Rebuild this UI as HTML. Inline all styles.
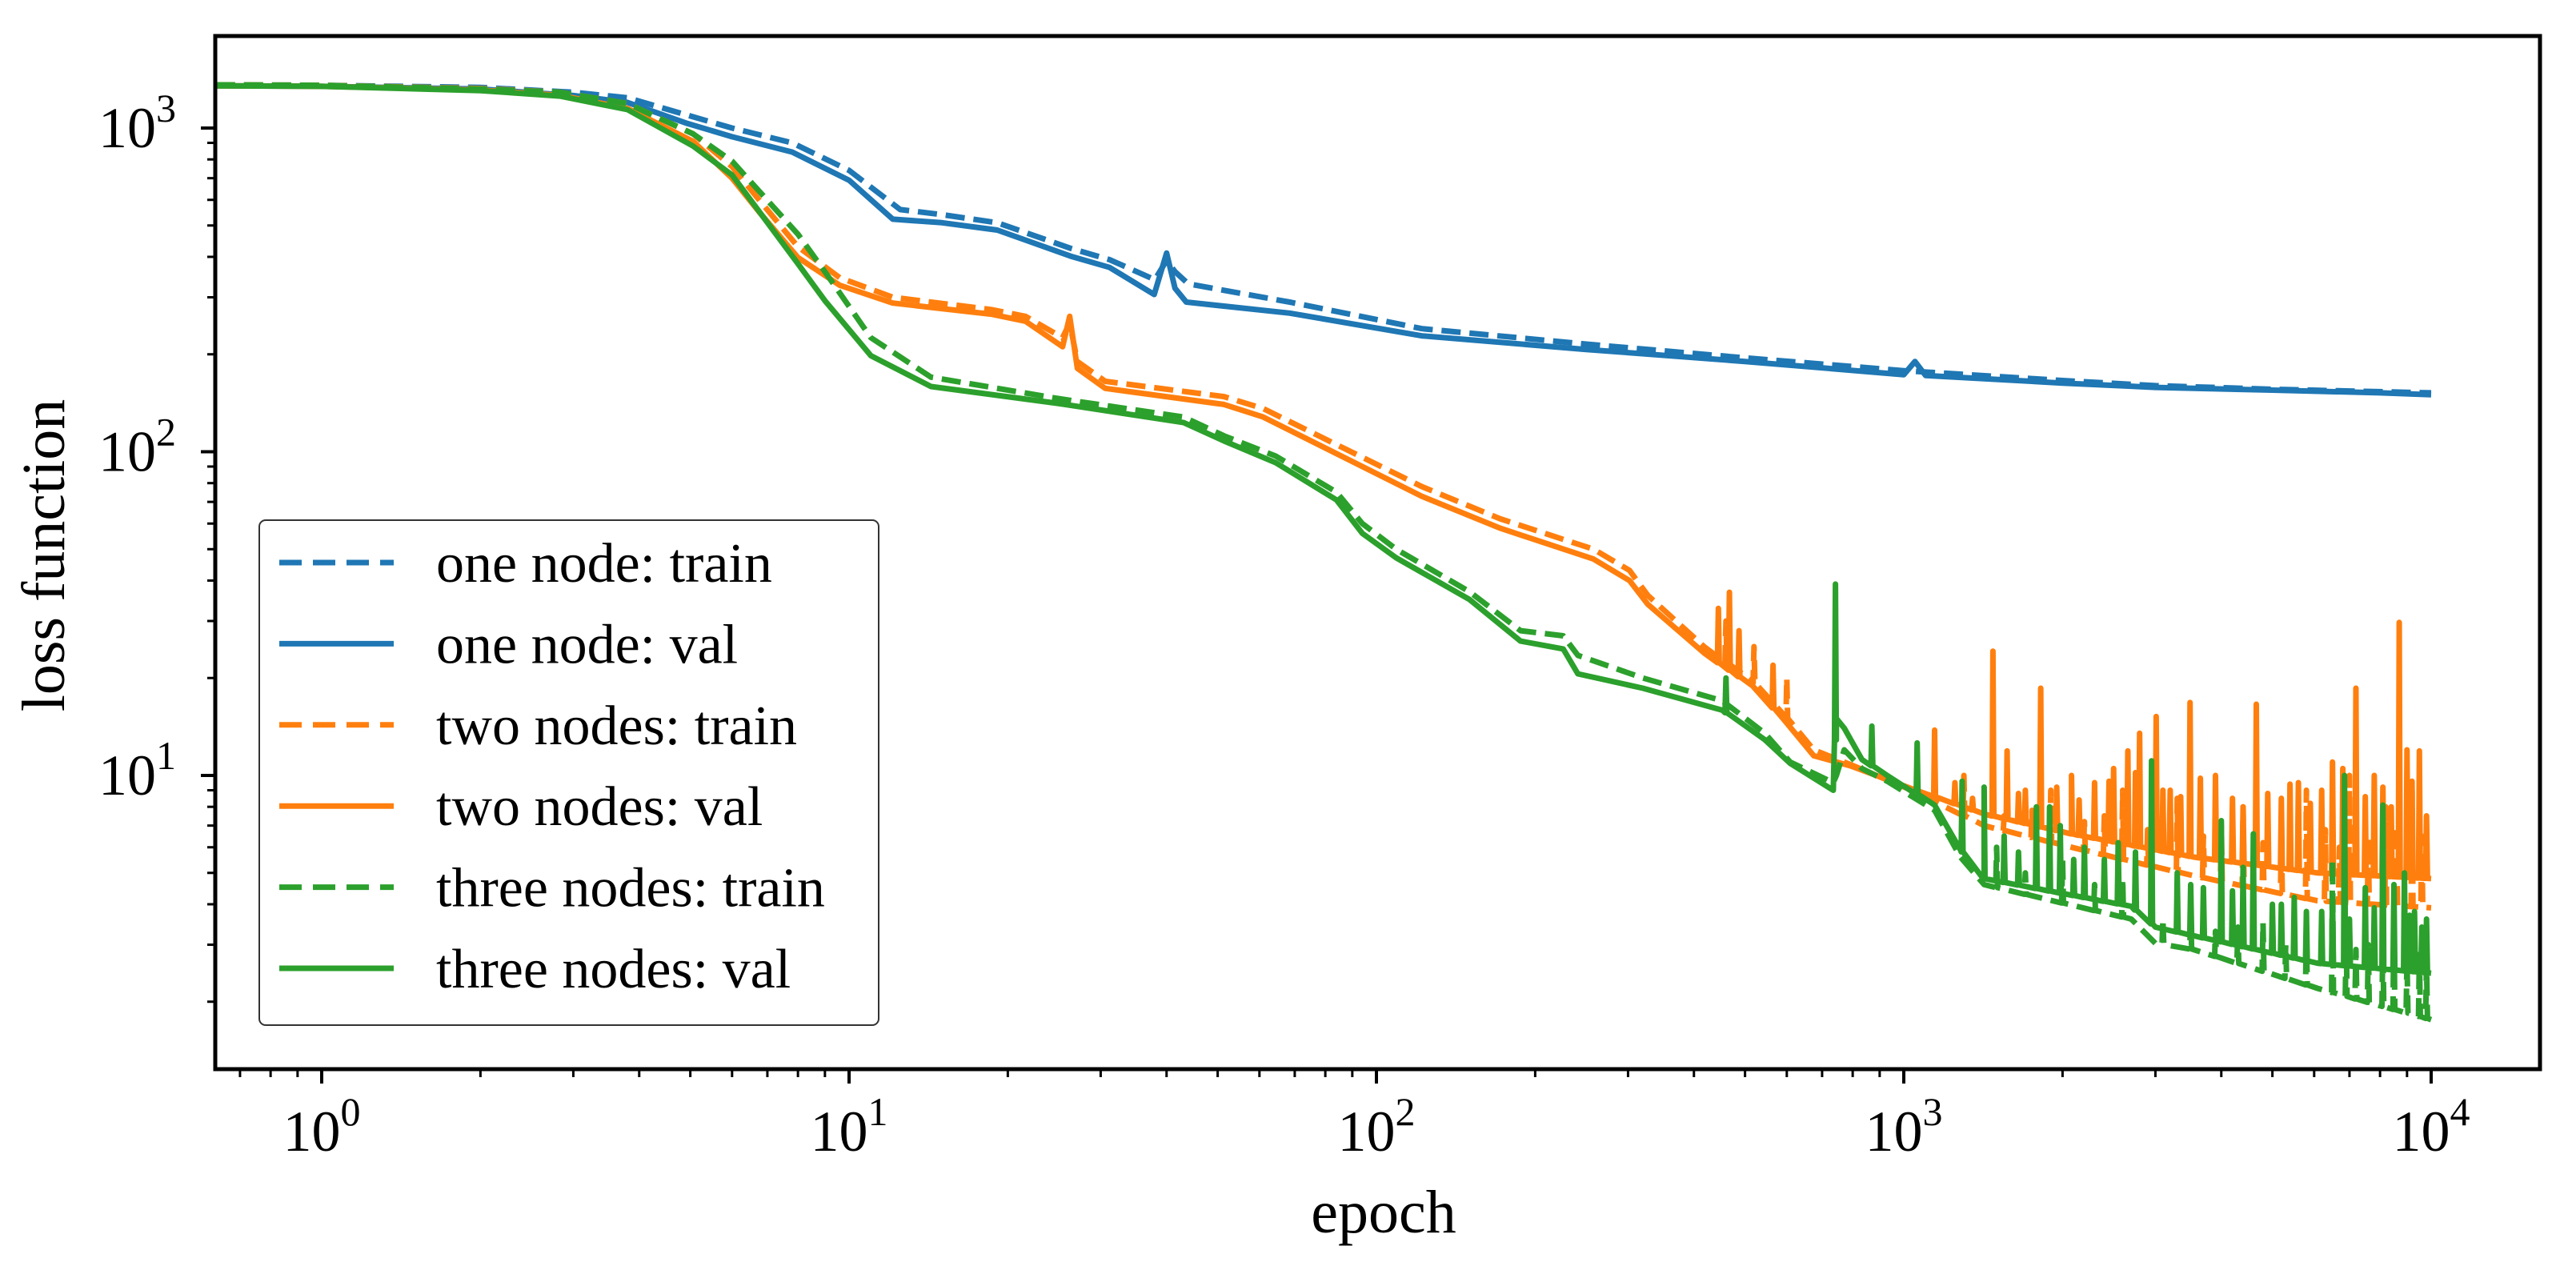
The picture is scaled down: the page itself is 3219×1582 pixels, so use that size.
<!DOCTYPE html>
<html><head><meta charset="utf-8"><style>
html,body{margin:0;padding:0;background:#fff;}
svg{display:block;font-family:"Liberation Serif",serif;}
</style></head><body>
<svg id="chart" width="3219" height="1582" viewBox="0 0 3219 1582" xmlns="http://www.w3.org/2000/svg">
<rect x="0" y="0" width="3219" height="1582" fill="#fff"/>
<defs><clipPath id="plotclip"><rect x="271" y="46" width="2902" height="1289"/></clipPath></defs>
<g id="series" clip-path="url(#plotclip)"></g>
<g id="axes"></g>
<g id="legend"></g>
</svg>
<script>
// ---- data ----
const xTickLabels = ["0","1","2","3","4"];
const yTickLabels = ["1","2","3"];

const oneTrainE = [0.63,1,2,3,3.8,4.9,6,7.8,10,12.5,15,19.1,26.3,31.2,38,40,41.5,44,68.5,122,250,500,1000,2000,3000,5000,10000];
const oneTrainV = [1360,1355,1335,1290,1240,1100,1000,900,740,560,540,510,425,392,340,390,360,330,290,240,215,195,178,166,160,156,152];
const oneValE = [0.63,1,2,3,3.8,4.9,6,7.8,10,12.1,15,19.1,26.3,31.2,37.9,40,41.5,43.6,68.5,122,250,500,1000,1050,1100,2000,3000,5000,8000,10000];
const oneValV = [1350,1345,1320,1260,1200,1037,940,843,690,523,510,484,402,371,306,411,320,290,268,228,207,190,173,190,172,163,158,155,152,150];

const twoTrainE = [0.63,1,2,2.83,3.8,5.06,6,6.75,8,9.6,12.1,18.6,21.6,25.4,26.2,27.1,30.6,51.4,61,122,172,258,302,327,418,517,590,675,793,1036,1420,2080,3540,6087,10000];
const twoTrainV = [1360,1355,1325,1290,1190,960,760,600,430,345,300,275,262,225,250,190,165,148,136,78,62,50,43,36,25,19.5,15.5,12,10.8,9.0,7.0,6.0,4.9,4.1,3.9];
const twoTrainSpikeE = [460,520,600,1300,1900,2600,3300,4400,5800,7000,8200,9200,1550,1750,2200,2400,2900,3700,4000,4800,5200,6300,6700,7600,8600,9600];
const twoTrainSpikeV = [30,25,20,10,9,9,8.5,8,9,10,8,9,7.5,7.8,7.2,7.5,6.8,6.5,7,6.2,6.5,6.8,6,6.4,7,6.5];
const twoValE = [0.63,1,2,2.83,3.8,5.06,6,6.75,8,9.6,12.1,18.6,21.6,25.4,26.2,27.1,30.6,51.4,61,122,172,258,302,327,418,517,590,675,793,1036,1420,2080,3540,6087,10000];
const twoValV = [1350,1345,1310,1262,1150,910,700,551,398,327,288,266,253,211,262,181,157,140,128,72.8,58,46.6,40,33.8,23.9,18.9,15,11.5,10.7,9.1,7.6,6.6,5.6,5.0,4.8];
const twoValSpikeE = [445,467,487,565,1144,1476,1570,1818,2080,2660,2800,3010,3490,4660,7200,8700,9500,1250,1700,2300,2500,3200,3900,4200,5200,5600,6500,7800,9000,1350,1650,1950,2150,2450,2750,3100,3350,3650,4400,4900,5400,5900,6200,6800,7500,8100,8400,9200,9800];
const twoValSpikeV = [32.8,36.8,28,21.9,13.8,24.2,11.9,18.6,10,11.9,13.5,15.2,16.8,16.6,18.6,29.7,11.9,9.5,9,9.5,10.5,9,10,8.5,8.5,9.5,11,10,12,8.5,8.8,9.2,8.4,9.6,10.2,9.0,8.6,9.8,8.0,8.8,9.4,8.2,9.0,10.5,8.6,9.2,8.0,9.6,7.5];

const threeTrainE = [0.63,1,2,2.83,3.8,5.06,6,8,9,11,14.3,24.9,43.1,51.4,64.4,84,94,109,150,187.6,226,241,320,453,545,609,735,745,771,833,930,1144,1280,1420,2700,3000,3540,6087,10000];
const threeTrainV = [1360,1355,1320,1290,1190,960,790,470,360,225,170,146,128,112,97,75,60,50,37,28,27,23.5,20,17,13.5,11,9.5,10,12,10.5,9.6,7.8,5.6,4.6,3.6,3.03,2.9,2.2,1.76];
const threeTrainSpikeE = [1500,2000,2600,3500,4800,5800,6500,7600,8500,9500,1700,2300,3100,3900,4300,5300,6900,7200,8100,9000,9800];
const threeTrainSpikeV = [6,5.5,4.8,3.8,3.5,3.2,5.5,3.0,3.5,2.8,5,4.6,3.6,3.3,3.4,3.0,3.2,2.9,3.1,2.7,2.6];
const threeValE = [0.63,1,2,2.83,3.8,5.06,6,8,9,11,14.3,24.9,43.1,51.4,64.4,84,94,109,150,187.6,226,241,320,453,545,609,735,745,771,833,930,1144,1280,1420,2700,3000,3540,6087,10000];
const threeValV = [1350,1345,1305,1255,1140,880,716,381,293,198,159,141,123,108,92.5,71,56,47,35,26,24.6,20.6,18.6,15.9,12.9,10.9,9.0,15,14,11.2,10,8.1,5.9,4.8,3.94,3.4,3.2,2.63,2.45];
const threeValSpikeE = [460,742,870,1060,1290,1420,1784,1890,2950,4000,4600,6850,8100,6200,8900,2200,2400,3300,3700,5000,5500,7500,9300,9800,1550,1650,1980,2100,2550,2750,3500,4200,4400,5200,5800,6500,7000,7800,8500,9100,9600];
const threeValSpikeV = [20,39,14.2,12.6,9.6,9.2,8,8,11.1,7.25,6.6,10,8.1,3.8,5.0,6,5.5,5,4.5,4,4.2,4.5,3.8,3.6,6.5,5.8,7.0,5.5,6.2,5.8,4.6,4.4,5.2,4.0,3.8,4.2,3.6,3.9,4.6,3.7,3.4];

const legendLabels = ["one node: train","one node: val","two nodes: train","two nodes: val","three nodes: train","three nodes: val"];

// ---- axes ----
const X0 = 402, XD = 659, Y1 = 969, YD = 404.5;
const L = 269, R = 3174, T = 45, B = 1336;
function X(e){ return X0 + XD*Math.log10(e); }
function Y(v){ return Y1 - YD*(Math.log10(v)-1); }
const NS = "http://www.w3.org/2000/svg";
function mk(tag, parent){ const el = document.createElementNS(NS, tag); parent.appendChild(el); return el; }

function interp(E, V, e){
  const le = Math.log10(e);
  for (let i=0;i<E.length-1;i++){
    if (e>=E[i] && e<=E[i+1]){
      const t=(le-Math.log10(E[i]))/(Math.log10(E[i+1])-Math.log10(E[i]));
      return Math.pow(10, Math.log10(V[i])+t*(Math.log10(V[i+1])-Math.log10(V[i])));
    }
  }
  return V[V.length-1];
}
function buildPts(E, V, SE, SV){
  let pts = E.map((e,i)=>[e,V[i]]);
  if (SE){
    SE.forEach((e,i)=>{
      const b = interp(E,V,e);
      pts.push([e*0.996,b],[e,SV[i]],[e*1.004,b]);
    });
  }
  pts.sort((a,b)=>a[0]-b[0]);
  return pts;
}
const seriesG = document.getElementById('series');
function drawSeries(name, E, V, SE, SV, color, dashed){
  const pts = buildPts(E,V,SE,SV);
  const p = mk('path', seriesG);
  p.setAttribute('d', pts.map((q,i)=>(i?'L':'M')+X(q[0]).toFixed(1)+','+Y(q[1]).toFixed(1)).join(''));
  p.setAttribute('fill','none');
  p.setAttribute('stroke',color);
  p.setAttribute('stroke-width','7');
  p.setAttribute('stroke-linejoin','round');
  if (dashed) p.setAttribute('stroke-dasharray','24,11');
  
  
}
const C1="#1f77b4", C2="#ff7f0e", C3="#2ca02c";
drawSeries('one-node-train-line', oneTrainE, oneTrainV, null, null, C1, true);
drawSeries('one-node-val-line', oneValE, oneValV, null, null, C1, false);
drawSeries('two-nodes-train-line', twoTrainE, twoTrainV, twoTrainSpikeE, twoTrainSpikeV, C2, true);
drawSeries('two-nodes-val-line', twoValE, twoValV, twoValSpikeE, twoValSpikeV, C2, false);
drawSeries('three-nodes-train-line', threeTrainE, threeTrainV, threeTrainSpikeE, threeTrainSpikeV, C3, true);
drawSeries('three-nodes-val-line', threeValE, threeValV, threeValSpikeE, threeValSpikeV, C3, false);

// axes frame & ticks
const ax = document.getElementById('axes');
const frame = mk('rect', ax);
frame.setAttribute('x',L); frame.setAttribute('y',T); frame.setAttribute('width',R-L); frame.setAttribute('height',B-T);
frame.setAttribute('fill','none'); frame.setAttribute('stroke','#000'); frame.setAttribute('stroke-width','5');


function tick(x1,y1,x2,y2,w,name){
  const l = mk('line', ax);
  l.setAttribute('x1',x1); l.setAttribute('y1',y1); l.setAttribute('x2',x2); l.setAttribute('y2',y2);
  l.setAttribute('stroke','#000'); l.setAttribute('stroke-width',w);
  
  
}
for (let k=-1;k<=4;k++){
  for (let m=1;m<=9;m++){
    const e = m*Math.pow(10,k);
    const x = X(e);
    if (x<L || x>R) continue;
    if (m===1) tick(x,B,x,B+18,4,'x-major-tick'); else tick(x,B,x,B+10,3,'x-minor-tick');
  }
}
xTickLabels.forEach((s,i)=>{
  const t = mk('text', ax);
  t.setAttribute('x', X(Math.pow(10,+s)));
  t.setAttribute('y', 1438);
  t.setAttribute('text-anchor','middle');
  t.setAttribute('font-size','72');
  t.innerHTML = '10<tspan font-size="50" dy="-32">'+s+'</tspan>';
  
  
});
for (let k=0;k<=3;k++){
  for (let m=1;m<=9;m++){
    const v = m*Math.pow(10,k);
    const y = Y(v);
    if (y<T || y>B) continue;
    if (m===1) tick(L,y,L-18,y,4,'y-major-tick'); else tick(L,y,L-10,y,3,'y-minor-tick');
  }
}
yTickLabels.forEach((s)=>{
  const t = mk('text', ax);
  t.setAttribute('x', 220);
  t.setAttribute('y', Y(Math.pow(10,+s))+24);
  t.setAttribute('text-anchor','end');
  t.setAttribute('font-size','72');
  t.innerHTML = '10<tspan font-size="50" dy="-32">'+s+'</tspan>';
  
  
});
const xl = mk('text', ax);
xl.setAttribute('x', 1729); xl.setAttribute('y', 1540); xl.setAttribute('text-anchor','middle'); xl.setAttribute('font-size','76');
xl.textContent = 'epoch';


const yl = mk('text', ax);
yl.setAttribute('transform','translate(80,694) rotate(-90)'); yl.setAttribute('text-anchor','middle'); yl.setAttribute('font-size','76');
yl.textContent = 'loss function';



// legend
const lg = document.getElementById('legend');
const box = mk('rect', lg);
box.setAttribute('x',324); box.setAttribute('y',650); box.setAttribute('width',774); box.setAttribute('height',631);
box.setAttribute('rx',8); box.setAttribute('fill','#fff'); box.setAttribute('stroke','#333'); box.setAttribute('stroke-width','2');


const lgColors = [C1,C1,C2,C2,C3,C3];
legendLabels.forEach((s,i)=>{
  const y = 703 + i*101.4;
  const l = mk('line', lg);
  l.setAttribute('x1',349); l.setAttribute('x2',492); l.setAttribute('y1',y); l.setAttribute('y2',y);
  l.setAttribute('stroke',lgColors[i]); l.setAttribute('stroke-width','7');
  if (i%2===0) l.setAttribute('stroke-dasharray','28,14');
  
  
  const t = mk('text', lg);
  t.setAttribute('x',545); t.setAttribute('y',y+24); t.setAttribute('font-size','70');
  t.textContent = s;
  
  
});
</script>
</body></html>
